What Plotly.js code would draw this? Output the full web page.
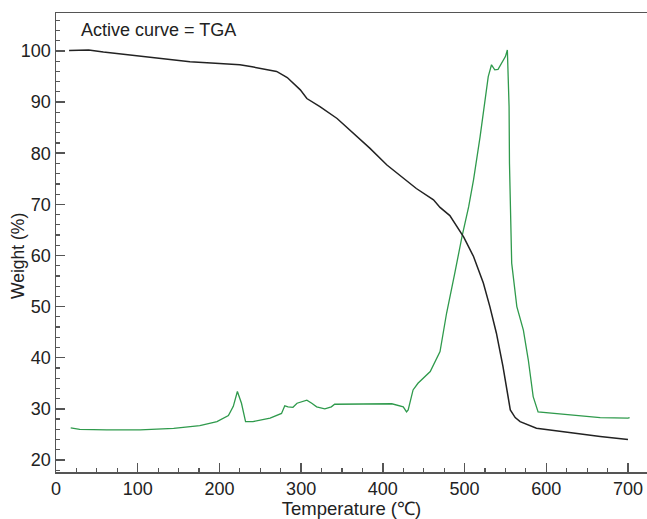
<!DOCTYPE html>
<html>
<head>
<meta charset="utf-8">
<script src="https://cdn.plot.ly/plotly-3.0.1.min.js"></script>
<style>html,body{margin:0;padding:0;background:#fff;}#chart{width:647px;height:519px;}</style>
</head>
<body>
<div id="chart"></div>
<script>
// TGA curve (black)
const tgaTemp = [16, 40, 58, 80, 103, 130, 164, 195, 225, 240, 258, 270, 283, 292, 299, 307, 323, 344, 364, 384, 405, 425, 441, 462, 470, 482, 494, 499, 511, 523, 531, 539, 547, 552, 556, 562, 568, 588, 610, 633, 666, 700];
const tgaWeight = [100.1, 100.2, 99.8, 99.4, 98.9, 98.5, 97.9, 97.6, 97.3, 96.9, 96.4, 96.0, 94.8, 93.5, 92.4, 90.7, 89.1, 86.8, 83.9, 81.0, 77.7, 75.1, 73.1, 70.9, 69.4, 67.8, 65.0, 63.6, 59.8, 54.6, 50.0, 44.8, 38.3, 33.7, 29.8, 28.3, 27.5, 26.2, 25.7, 25.3, 24.6, 24.0];
// Second curve (green)
const dtaTemp = [18, 22, 29, 62, 103, 144, 176, 197, 211, 217, 222, 227, 232, 241, 262, 276, 280, 284, 290, 295, 307, 313, 319, 329, 337, 341, 376, 411, 425, 429, 431, 437, 443, 458, 470, 478, 488, 497, 505, 511, 519, 525, 529, 533, 537, 541, 546, 550, 552.4, 553.6, 554.5, 555, 556, 557.7, 564, 572, 578, 584, 590, 613, 633, 666, 700, 702];
const dtaValue = [26.3, 26.2, 26.0, 25.9, 25.9, 26.2, 26.7, 27.5, 28.7, 30.5, 33.4, 31.1, 27.5, 27.5, 28.2, 29.1, 30.6, 30.4, 30.3, 31.1, 31.7, 31.1, 30.4, 30.0, 30.4, 30.9, 31.0, 31.0, 30.4, 29.4, 29.8, 33.7, 35.0, 37.3, 41.2, 48.7, 56.5, 63.8, 69.5, 74.8, 83.2, 90.4, 95.0, 97.3, 96.3, 96.4, 97.9, 98.9, 100.2, 95.3, 89.1, 78.0, 68.0, 58.5, 50.0, 45.4, 39.6, 32.4, 29.4, 29.1, 28.8, 28.3, 28.2, 28.3];

const xTickVals = [0, 100, 200, 300, 400, 500, 600, 700];
const yTickVals = [20, 30, 40, 50, 60, 70, 80, 90, 100];

const FONT = '"Liberation Sans", Arial, Helvetica, sans-serif';
const AXC = '#555555';

const traces = [
  {x: dtaTemp, y: dtaValue, mode: 'lines', line: {color: '#2f9a4c', width: 1.3}, hoverinfo: 'skip'},
  {x: tgaTemp, y: tgaWeight, mode: 'lines', line: {color: '#222222', width: 1.5}, hoverinfo: 'skip'}
];

const layout = {
  width: 647, height: 519,
  margin: {l: 56, r: 0, t: 13, b: 47},
  paper_bgcolor: '#ffffff', plot_bgcolor: '#ffffff',
  showlegend: false,
  font: {family: FONT, size: 18, color: '#222222'},
  xaxis: {
    range: [0, 723.3], showgrid: false, zeroline: false,
    showline: true, linecolor: AXC, linewidth: 1.5, mirror: true,
    ticks: 'inside', ticklen: 9, tickwidth: 1.5, tickcolor: AXC,
    tickvals: xTickVals, ticktext: xTickVals.map(String),
    tickfont: {family: FONT, size: 18, color: '#222222'},
    minor: {dtick: 25, tick0: 0, ticks: 'inside', ticklen: 4, tickwidth: 1.2, tickcolor: AXC},
    title: {text: 'Temperature (℃)', font: {family: FONT, size: 18.5, color: '#222222'}, standoff: 4}
  },
  yaxis: {
    range: [17.65, 107.43], showgrid: false, zeroline: false,
    showline: true, linecolor: AXC, linewidth: 1.5, mirror: false,
    ticks: 'inside', ticklen: 9, tickwidth: 1.5, tickcolor: AXC,
    tickvals: yTickVals, ticktext: yTickVals.map(String),
    tickfont: {family: FONT, size: 18, color: '#222222'},
    minor: {dtick: 2, tick0: 0, ticks: 'inside', ticklen: 4, tickwidth: 1.2, tickcolor: AXC}
  },
  annotations: [
    {text: 'Active curve = TGA', xref: 'paper', yref: 'paper', x: (79-56)/591, y: 1 - (30-13)/459,
     xanchor: 'left', yanchor: 'middle', showarrow: false,
     font: {family: FONT, size: 18, color: '#222222'}},
    {text: 'Weight (%)', xref: 'paper', yref: 'paper', x: (18-56)/591, y: 1 - (256-13)/459,
     xanchor: 'center', yanchor: 'middle', textangle: -90, showarrow: false,
     font: {family: FONT, size: 17.5, color: '#222222'}}
  ]
};

Plotly.newPlot('chart', traces, layout, {displayModeBar: false, staticPlot: true});
</script>
</body>
</html>
